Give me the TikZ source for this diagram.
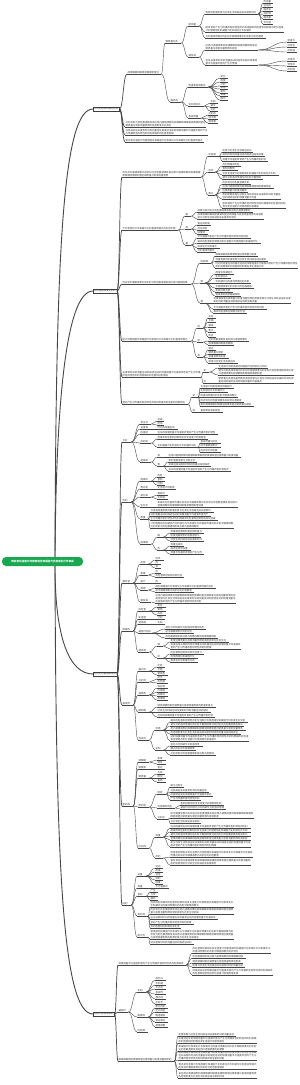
\documentclass[tikz,border=0pt]{standalone}
\usepackage{fontspec}
\newfontfamily\cjk{Noto Sans CJK SC}
\usetikzlibrary{calc}
\XeTeXlinebreaklocale "zh"
\XeTeXlinebreakskip=0pt plus 0.5pt
\definecolor{rootg}{RGB}{24,168,80}
\definecolor{lnc}{RGB}{70,70,70}
\definecolor{txt}{RGB}{55,55,55}

% text source, taken a bit at a time
\def\src{物态变化温度计的使用熔化和凝固汽化和液化升华和凝华光的直线传播光的反射平面镜成像光的折射光的色散透镜及其应用凸透镜成像的规律眼睛和眼镜显微镜和望远镜质量与密度测量物质的密度密度与社会生活机械运动长度和时间的测量运动的描述运动的快慢测量平均速度声音的产生与传播声音的特性声的利用噪声的危害和控制}
\newcount\ftn
\def\ft#1{\ftn=#1\relax\ftstep}
\def\ftstep{\ifnum\ftn>0 \expandafter\ftone\fi}
\def\ftone{\expandafter\ftpick\src\ftend}
\def\ftpick#1#2\ftend{#1\gdef\src{#2#1}\advance\ftn-1 \ftstep}

\tikzset{
  rt/.style={fill=rootg, rounded corners=4pt, text=white, inner sep=0pt,
    minimum width=81pt, minimum height=9pt, font=\cjk\bfseries\fontsize{2.6}{3}\selectfont},
  bx/.style={draw=black!75, line width=.5pt, fill=white, anchor=west, inner xsep=1pt,
    inner ysep=.7pt, text=txt, font=\cjk\fontsize{2.4}{3}\selectfont},
  tn/.style={anchor=south west, inner xsep=.5pt, inner ysep=.4pt, align=left, text=txt,
    font=\cjk\fontsize{2.4}{3}\selectfont},
  ul/.style={draw=lnc, line width=.35pt},
  lk/.style={draw=lnc, line width=.4pt, to path={let \p1=(\tikztostart), \p2=(\tikztotarget) in
    .. controls ({0.5*(\x1+\x2)},\y1) and ({0.5*(\x1+\x2)},\y2) .. (\tikztotarget)}},
  ml/.style={line width=.7pt},
  rl/.style={draw=lnc, line width=.9pt}
}

% child node: [link style] name, parent, x, y, width, lines
\newcommand\kid[7][]{%
  \pgfmathtruncatemacro\nch{max(1,((#7>1)*(#7-0.4)+(#7<2))*(#6-1)/2.4)}%
  \node[tn,text width=#6pt] (#2) at (#4,#5) {\ft{\nch}};
  \draw[ul] (#2.south west) -- (#2.south east);
  \draw[lk,#1] (#3-o) to (#2.south west);
  \coordinate (#2-o) at (#2.south east);}
% leaves of one parent: parent, x, {y/width/lines,...}
\newcommand\fan[3]{\foreach \fy/\fw/\fl [count=\fk] in {#3}{\kid{#1-\fk}{#1}{#2}{\fy}{\fw}{\fl}}}

\begin{document}
\begin{tikzpicture}[x=1pt,y=-1pt]
\path[use as bounding box,fill=white] (0,0) rectangle (300,1085);

\node[rt] (rt) at (42.5,561.5) {\ft{24}};

\node[bx] (A) at (93,109) {\ft{10}};
\node[bx] (B) at (93,291) {\ft{9}};
\node[bx] (C) at (93,674) {\ft{9}};
\node[bx] (D) at (93,1014) {\ft{8}};
\foreach \n in {A,B,C,D} \coordinate (\n-o) at (\n.east);

\draw[rl] (55,557) .. controls (56,260) and (62,109) .. (A.west);
\draw[rl] (55,557) .. controls (56,420) and (64,291) .. (B.west);
\draw[rl] (55,566) .. controls (55,640) and (70,674) .. (C.west);
\draw[rl] (55,566) .. controls (56,860) and (62,1014) .. (D.west);

% A
\kid[ml]{a1}{A}{127}{74}{33}{1}
\kid{a1a}{a1}{165}{43}{15}{1}
\kid{a1a1}{a1a}{188}{26}{10}{1}
\kid{a1a1a}{a1a1}{205}{14}{52}{1}
\fan{a1a1a}{263}{3/9/1,7/9/1,11/9/1,15/9/1,19/9/1,24/9/1}
\kid{a1a1b}{a1a1}{205}{32}{78}{2}
\kid{a1a1c}{a1a1}{205}{38}{60}{1}
\kid{a1a2}{a1a}{188}{57}{10}{1}
\kid{a1a2a}{a1a2}{205}{50}{52}{2}
\fan{a1a2a}{287}{42/9/1,47/9/1,52/9/1}
\kid{a1a2b}{a1a2}{205}{65}{52}{2}
\fan{a1a2b}{287}{61/9/1,66/9/1,71/9/1}
\kid{a1b}{a1}{170}{102}{10}{1}
\kid{a1b1}{a1b}{188}{87}{19}{1}
\fan{a1b1}{220}{78/7/1,82/7/1,86/7/1,89/7/1,93/7/1,96/7/1,100/7/1}
\kid{a1b2}{a1b}{188}{106}{15}{1}
\fan{a1b2}{210}{103/7/1,107/7/1,111/7/1}
\kid{a1b3}{a1b}{188}{118}{12}{1}
\fan{a1b3}{208}{115/9/1,119/9/1,123/9/1}
\kid[ml]{a2}{A}{125}{127}{80}{2}
\kid[ml]{a3}{A}{125}{135}{82}{2}
\kid[ml]{a4}{A}{125}{142}{78}{1}

% B
\kid[ml]{b1}{B}{122}{177}{78}{2}
\kid{b1a}{b1}{208}{156}{10}{1}
\fan{b1a}{222}{152/30/1,156/42/1,161/45/1}
\kid{b1b}{b1}{208}{172}{6}{1}
\fan{b1b}{222}{166/18/1,170/15/1,175/56/1,179/40/1}
\kid{b1c}{b1}{208}{195}{6}{1}
\fan{b1c}{222}{184/28/1,188/51/1,192/25/1,199/58/2,208/63/2}
\kid[ml]{b2}{B}{122}{230}{55}{1}
\kid{b2a}{b2}{185}{216}{5}{1}
\fan{b2a}{197}{212/55/1,219/66/2}
\kid{b2b}{b2}{185}{229}{5}{1}
\fan{b2b}{197}{225/13/1,230/11/1,234/10/1}
\kid{b2c}{b2}{185}{245}{5}{1}
\fan{b2c}{197}{238/53/1,243/63/1,248/22/1,252/18/1}
\kid[ml]{b3}{B}{122}{284}{68}{1}
\kid{b3a}{b3}{200}{263}{10}{1}
\fan{b3a}{215}{256/42/1,261/52/1,268/82/2}
\kid{b3b}{b3}{200}{283}{4}{1}
\fan{b3b}{215}{274/18/1,278/15/1,283/35/1,288/38/1,292/17/1,296/25/1}
\kid{b3c}{b3}{200}{303}{4}{1}
\fan{b3c}{213}{303/77/2,309/53/1,313/33/1}
\kid[ml]{b4}{B}{122}{341}{68}{1}
\kid{b4a}{b4}{197}{328}{5}{1}
\fan{b4a}{208}{318/7/1,322/7/1,327/7/1,332/7/1,337/7/1}
\kid{b4b}{b4}{197}{342}{5}{1}
\fan{b4b}{208}{341/40/1,345/25/1}
\kid{b4c}{b4}{197}{357}{5}{1}
\fan{b4c}{208}{350/7/1,354/17/1,358/20/1,363/29/1}
\kid[ml]{b5}{B}{122}{377}{78}{2}
\kid{b5a}{b5}{203}{372}{5}{1}
\fan{b5a}{218}{368/49/1,375/75/2}
\kid{b5b}{b5}{203}{383}{5}{1}
\fan{b5b}{218}{383/75/2}
\kid[ml]{b6}{B}{122}{404}{65}{1}
\kid{b6a}{b6}{192}{397}{5}{1}
\fan{b6a}{200}{388/33/1,392/27/1,397/37/1,402/43/1,406/53/1}
\kid{b6b}{b6}{192}{412}{5}{1}
\fan{b6b}{200}{412/22/1}

% C
\kid[ml]{c1}{C}{122}{442}{8}{1}
\kid{c1a}{c1}{140}{424}{10}{1}
\fan{c1a}{157}{421/6/1,425/6/1}
\kid{c1b}{c1}{140}{429}{10}{1}
\fan{c1b}{157}{429/20/1}
\kid{c1c}{c1}{140}{434}{10}{1}
\fan{c1c}{157}{434/60/1}
\kid{c1d}{c1}{140}{443}{10}{1}
\fan{c1d}{157}{439/50/1}
\kid{c1d2}{c1d}{157}{447}{40}{1}
\fan{c1d2}{200}{443/20/1,447/20/1,452/20/1}
\kid{c1e}{c1}{140}{462}{10}{1}
\kid{c1e1}{c1e}{157}{457}{5}{1}
\fan{c1e1}{168}{457/72/1}
\kid{c1e2}{c1e}{157}{466}{5}{1}
\fan{c1e2}{168}{462/28/1,466/42/1,471/62/1}
\kid[ml]{c2}{C}{122}{502}{8}{1}
\kid{c2a}{c2}{140}{481}{10}{1}
\fan{c2a}{157}{477/7/1,481/7/1,485/7/1}
\kid{c2b}{c2}{140}{489}{10}{1}
\fan{c2b}{157}{489/18/1}
\kid{c2c}{c2}{140}{497}{10}{1}
\fan{c2c}{157}{495/10/1,499/10/1}
\kid{c2d}{c2}{140}{507}{10}{1}
\fan{c2d}{157}{507/80/2}
\kid{c2e}{c2}{140}{519}{7}{1}
\fan{c2e}{150}{512/63/1,516/60/1,520/67/1,528/83/2}
\kid{c2f}{c2}{140}{544}{10}{1}
\kid{c2f1}{c2f}{157}{537}{5}{1}
\fan{c2f1}{170}{533/33/1,537/30/1,541/33/1}
\kid{c2f2}{c2f}{157}{550}{5}{1}
\fan{c2f2}{170}{546/13/1,550/20/1,554/33/1}
\kid[ml]{c3}{C}{122}{583}{10}{1}
\kid{c3a}{c3}{140}{564}{7}{1}
\fan{c3a}{155}{560/8/1,564/5/1,568/5/1}
\kid{c3b}{c3}{140}{575}{7}{1}
\fan{c3b}{155}{573/5/1,577/28/1}
\kid{c3c}{c3}{140}{583}{7}{1}
\fan{c3c}{155}{583/5/1}
\kid{c3d}{c3}{140}{590}{7}{1}
\fan{c3d}{155}{588/60/1,592/38/1}
\kid{c3e}{c3}{140}{602}{10}{1}
\fan{c3e}{155}{603/80/3}
\kid[ml]{c4}{C}{122}{631}{10}{1}
\kid{c4a}{c4}{138}{611}{10}{1}
\fan{c4a}{157}{607/8/1,611/8/1,615/8/1}
\kid{c4b}{c4}{138}{619}{10}{1}
\fan{c4b}{157}{619/7/1}
\kid{c4c}{c4}{138}{624}{10}{1}
\fan{c4c}{157}{624/7/1}
\kid{c4d}{c4}{138}{633}{13}{1}
\fan{c4d}{165}{629/40/1,633/28/1,638/52/1}
\kid{c4e}{c4}{138}{652}{10}{1}
\kid{c4e1}{c4e}{157}{646}{5}{1}
\fan{c4e1}{170}{642/58/1,649/70/2}
\kid{c4e2}{c4e}{157}{658}{5}{1}
\fan{c4e2}{170}{654/33/1,658/27/1,662/27/1}
\kid[ml]{c5}{C}{122}{705}{10}{1}
\kid{c5a}{c5}{138}{671}{10}{1}
\fan{c5a}{157}{667/7/1,671/7/1,675/10/1}
\kid{c5b}{c5}{138}{682}{10}{1}
\fan{c5b}{157}{679/8/1,683/10/1}
\kid{c5c}{c5}{138}{695}{10}{1}
\fan{c5c}{157}{688/10/1,692/10/1,696/10/1,700/10/1}
\kid{c5d}{c5}{138}{712}{10}{1}
\fan{c5d}{157}{707/58/1,712/53/1,717/57/1}
\kid{c5e}{c5}{138}{740}{10}{1}
\kid{c5e1}{c5e}{155}{730}{7}{1}
\fan{c5e1}{170}{722/77/1,726/73/1,730/75/1,734/70/1,741/78/2}
\kid{c5e2}{c5e}{155}{750}{7}{1}
\fan{c5e2}{170}{746/32/1,750/25/1,755/45/1}
\kid[ml]{c6}{C}{122}{806}{10}{1}
\kid{c6a}{c6}{138}{762}{10}{1}
\fan{c6a}{157}{760/8/1,764/8/1}
\kid{c6b}{c6}{138}{769}{10}{1}
\fan{c6b}{157}{769/7/1}
\kid{c6c}{c6}{138}{778}{10}{1}
\fan{c6c}{157}{774/7/1,778/8/1,782/8/1}
\kid{c6d}{c6}{138}{807}{10}{1}
\kid{c6d1}{c6d}{157}{794}{8}{1}
\fan{c6d1}{170}{787/13/1,792/38/1,796/42/1,800/30/1}
\kid{c6d2}{c6d}{157}{808}{17}{1}
\fan{c6d2}{180}{805/43/1,809/45/1}
\kid{c6d3}{c6d}{157}{819}{10}{1}
\fan{c6d3}{170}{818/83/2,823/30/1}
\kid{c6e}{c6}{138}{848}{10}{1}
\kid{c6e1}{c6e}{155}{837}{7}{1}
\fan{c6e1}{170}{828/80/1,832/80/1,836/80/1,840/80/1,847/80/2}
\kid{c6e2}{c6e}{155}{858}{7}{1}
\fan{c6e2}{170}{857/82/2,865/80/2}
\kid[ml]{c7}{C}{122}{905}{8}{1}
\kid{c7a}{c7}{137}{876}{8}{1}
\fan{c7a}{155}{868/7/1,872/7/1,876/7/1,880/7/1,884/7/1}
\kid{c7b}{c7}{137}{888}{8}{1}
\fan{c7b}{155}{888/13/1}
\kid{c7c}{c7}{137}{896}{8}{1}
\fan{c7c}{150}{892/7/1,896/7/1,900/7/1}
\kid{c7d}{c7}{137}{916}{10}{1}
\fan{c7d}{150}{907/83/2,914/83/2,919/67/1,924/43/1,928/30/1}
\kid{c7e}{c7}{137}{937}{10}{1}
\fan{c7e}{150}{939/83/3,944/43/1}

% D
\kid[ml]{d1}{D}{118}{965}{67}{1}
\fan{d1}{192}{953/78/2,958/53/1,963/50/1,967/52/1,975/80/2}
\kid[ml]{d2}{D}{118}{1012}{9}{1}
\kid{d2a}{d2}{137}{992}{8}{1}
\fan{d2a}{155}{980/10/1,985/10/1,989/10/1,994/10/1,999/10/1,1004/10/1}
\kid{d2b}{d2}{137}{1017}{10}{1}
\fan{d2b}{155}{1008/12/1,1012/12/1,1017/12/1,1022/12/1,1027/12/1}
\kid{d2c}{d2}{137}{1032}{10}{1}
\kid[ml]{d3}{D}{118}{1061}{55}{1}
\fan{d3}{178}{1036/57/1,1043/78/2,1051/78/2,1060/78/3,1069/78/2,1078/78/2}
\end{tikzpicture}
\end{document}
